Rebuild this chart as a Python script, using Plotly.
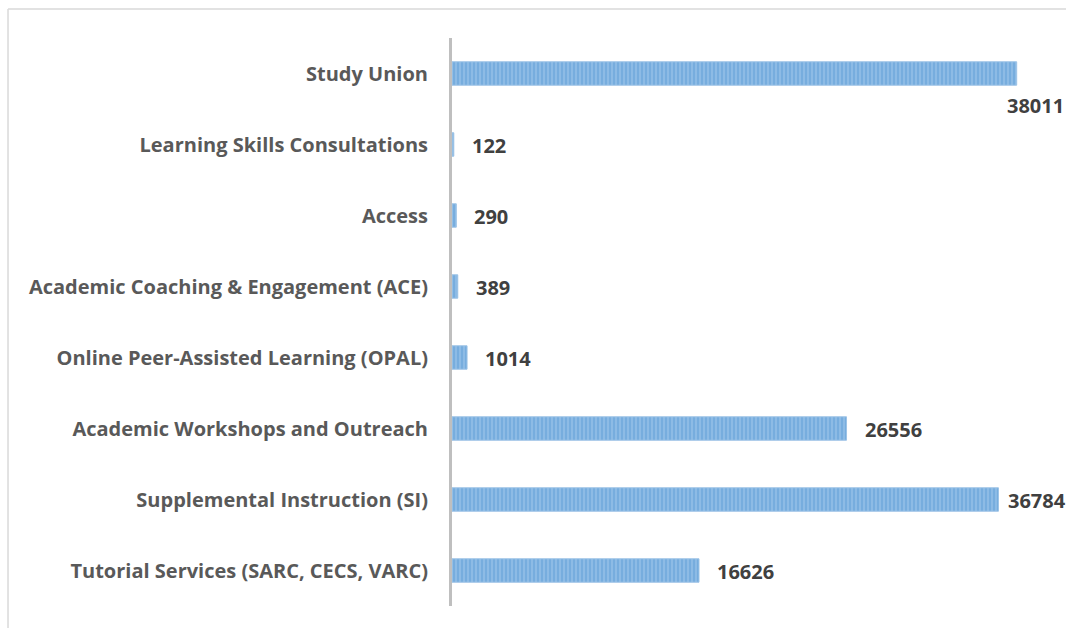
import plotly.graph_objects as go

categories = [
    "Tutorial Services (SARC, CECS, VARC)",
    "Supplemental Instruction (SI)",
    "Academic Workshops and Outreach",
    "Online Peer-Assisted Learning (OPAL)",
    "Academic Coaching & Engagement (ACE)",
    "Access",
    "Learning Skills Consultations",
    "Study Union",
]
values = [16626, 36784, 26556, 1014, 389, 290, 122, 38011]
labels = [str(v) for v in values]

FONT = "Open Sans"

fig = go.Figure()
fig.add_trace(go.Bar(
    y=categories,
    x=values,
    orientation="h",
    width=0.33,
    marker=dict(
        color="#92BEE6",
        line=dict(color="#9DC3E6", width=1),
        pattern=dict(shape="|", fgcolor="#5B9BD5", bgcolor="#92BEE6", size=4, solidity=0.6),
    ),
    hoverinfo="x+y",
))

top = max(values)
for cat, v, lab in zip(categories, values, labels):
    if v == top:
        xs, ys = -12, -32
    elif v > 0.95 * top:
        xs, ys = 8, -1
    else:
        xs, ys = 16, -1
    fig.add_annotation(x=v, y=cat, xref="x", yref="y", text=lab, showarrow=False,
                       xanchor="left", xshift=xs, yshift=ys,
                       font=dict(family=FONT, size=20, color="#404040", weight="bold"))

# chart frame (left and top border)
fig.add_shape(type="line", xref="paper", yref="paper", x0=-0.7231, x1=1.1, y0=1.051, y1=1.051,
              line=dict(color="#D9D9D9", width=1.5))
fig.add_shape(type="line", xref="paper", yref="paper", x0=-0.7231, x1=-0.7231, y0=1.051, y1=-0.1,
              line=dict(color="#D9D9D9", width=1.5))

fig.update_layout(
    width=1066, height=628,
    margin=dict(l=452, r=0, t=38, b=22),
    paper_bgcolor="white", plot_bgcolor="white",
    showlegend=False,
    xaxis=dict(range=[0, 41330], showgrid=False, zeroline=False, showticklabels=False, showline=False),
    yaxis=dict(showgrid=False, zeroline=False, showline=True, linecolor="#BFBFBF", linewidth=3,
               ticks="", ticklabelstandoff=17,
               tickfont=dict(family=FONT, size=20, color="#595959", weight="bold")),
)

fig.write_html("out.html", config={"displayModeBar": False},
               post_script="document.body.style.margin='0';document.body.style.overflow='hidden';")
